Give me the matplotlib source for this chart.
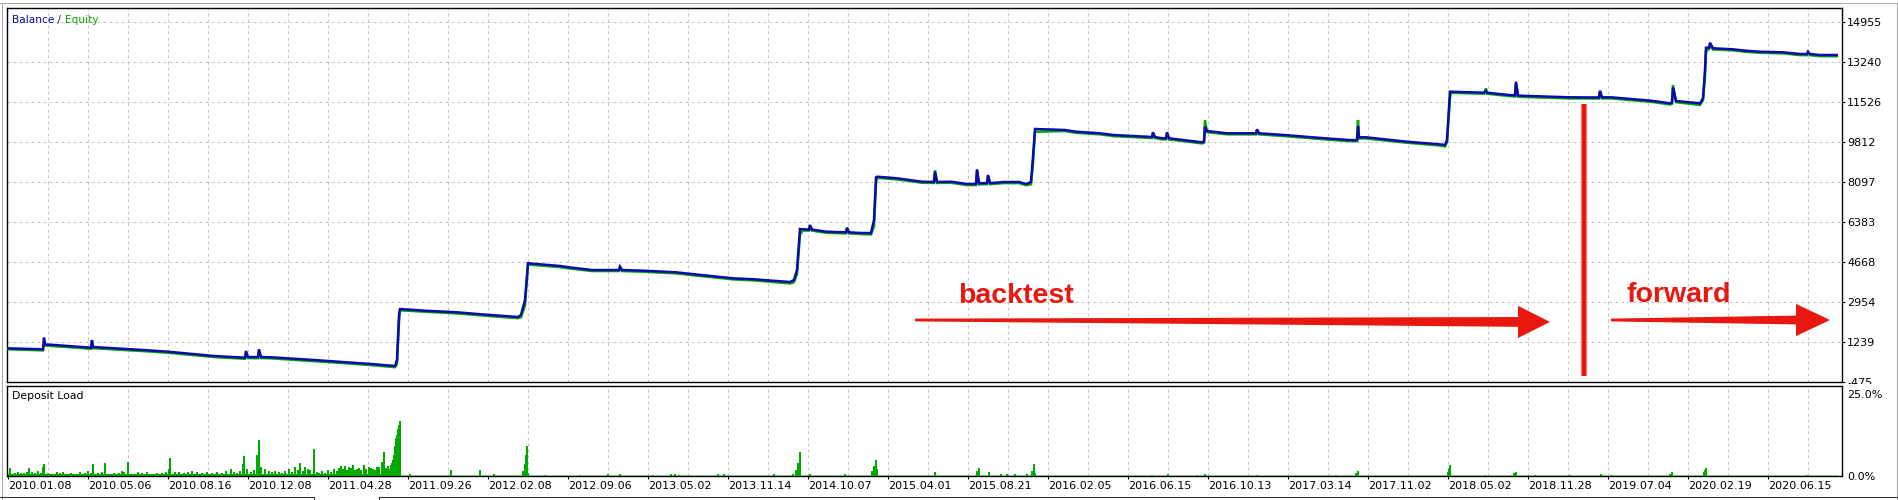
import matplotlib
matplotlib.use("Agg")
import matplotlib.pyplot as plt
from matplotlib.patches import Polygon, Rectangle
from matplotlib.lines import Line2D
import numpy as np

# ---------------- data (x = trade index along the chart) ----------------
bal_x = [0, 36, 37, 38, 84, 85, 86, 136, 161, 207,
         238, 239, 241, 251, 252, 254, 264, 307, 336, 364,
         388, 390, 392, 393, 418, 450, 479, 511, 514, 518,
         521, 553, 562, 585, 612, 613, 615, 637, 669, 694,
         726, 747, 783, 787, 790, 793, 796, 802, 803, 805,
         819, 839, 840, 842, 854, 864, 867, 869, 870, 890,
         915, 927, 928, 930, 944, 960, 969, 970, 972, 980,
         981, 983, 997, 1012, 1019, 1024, 1026, 1028, 1058, 1069,
         1093, 1106, 1145, 1146, 1148, 1155, 1159, 1160, 1162, 1195,
         1197, 1198, 1200, 1220, 1249, 1250, 1252, 1277, 1318, 1342,
         1350, 1351, 1352, 1359, 1400, 1432, 1438, 1440, 1443, 1444,
         1477, 1479, 1480, 1502, 1508, 1509, 1511, 1522, 1563, 1592,
         1593, 1595, 1604, 1644, 1663, 1665, 1666, 1669, 1693, 1696,
         1698, 1699, 1702, 1703, 1706, 1726, 1738, 1753, 1776, 1793,
         1800, 1801, 1803, 1813, 1831]

balance = [969, 927, 1424, 1141, 995, 1325, 1025, 897, 824, 639,
           567, 854, 597, 590, 927, 597, 584, 468, 382, 297,
           211, 468, 2397, 2654, 2581, 2512, 2410, 2311, 2397, 3040,
           4613, 4497, 4441, 4325, 4325, 4467, 4325, 4295, 4227, 4111,
           3970, 3927, 3811, 3897, 4325, 6083, 6070, 6060, 6254, 6060,
           5967, 5941, 6140, 5941, 5911, 5911, 6468, 8299, 8324, 8256,
           8110, 8100, 8539, 8100, 8110, 8011, 8011, 8641, 8041, 8050,
           8397, 8050, 8097, 8097, 8011, 8097, 9181, 10369, 10326, 10253,
           10185, 10112, 10026, 10227, 10026, 9970, 9970, 10227, 9970, 9799,
           9830, 10467, 10283, 10185, 10185, 10356, 10185, 10112, 9970, 9897,
           9890, 10497, 10013, 10013, 9824, 9713, 9683, 9897, 11968, 11968,
           11925, 12000, 11925, 11826, 11810, 12396, 11800, 11783, 11727, 11720,
           12010, 11727, 11727, 11582, 11470, 11500, 12148, 11569, 11470, 11685,
           12898, 13853, 13853, 14068, 13828, 13785, 13725, 13682, 13656, 13583,
           13583, 13682, 13583, 13540, 13540]

equity = [930, 880, 1300, 1090, 950, 1250, 975, 850, 780, 595,
          520, 780, 550, 545, 850, 550, 540, 420, 335, 250,
          160, 300, 2100, 2600, 2535, 2465, 2365, 2260, 2300, 2800,
          4560, 4450, 4395, 4280, 4280, 4480, 4280, 4250, 4180, 4065,
          3925, 3880, 3750, 3800, 4150, 5850, 6020, 6015, 6200, 6015,
          5920, 5895, 6100, 5895, 5865, 5850, 6200, 8000, 8275, 8210,
          8065, 8055, 8600, 8055, 8065, 7965, 7965, 8560, 7995, 8005,
          8350, 8005, 8050, 8050, 7960, 8000, 8900, 10250, 10280, 10205,
          10140, 10065, 9980, 10180, 9980, 9925, 9925, 10180, 9925, 9750,
          9780, 10755, 10235, 10140, 10140, 10300, 10140, 10065, 9925, 9850,
          9845, 10755, 9965, 9965, 9780, 9665, 9620, 9800, 11700, 11920,
          11880, 12113, 11880, 11780, 11765, 12300, 11755, 11735, 11680, 11675,
          11950, 11680, 11680, 11535, 11420, 11450, 12255, 11520, 11400, 11600,
          12600, 13700, 13805, 13950, 13780, 13740, 13680, 13635, 13610, 13535,
          13535, 13640, 13535, 13490, 13490]

# deposit load spikes
load_x = [3, 14, 20, 22, 28, 34, 36, 37, 46, 53,
          60, 68, 78, 84, 86, 91, 98, 103, 112, 117,
          121, 126, 135, 145, 155, 162, 163, 168, 177, 185,
          195, 205, 215, 224, 230, 236, 237, 240, 250, 252,
          254, 258, 262, 275, 282, 288, 293, 298, 303, 307,
          312, 318, 324, 330, 334, 338, 342, 346, 350, 354,
          357, 362, 366, 370, 375, 377, 380, 383, 386, 387,
          388, 389, 390, 391, 392, 393, 403, 444, 473, 487,
          516, 518, 519, 520, 521, 538, 573, 601, 613, 646,
          664, 668, 672, 711, 717, 767, 786, 789, 791, 793,
          803, 838, 865, 867, 869, 870, 928, 970, 972, 982,
          994, 1000, 1008, 1020, 1025, 1027, 1028, 1145, 1161, 1190,
          1198, 1250, 1329, 1349, 1351, 1441, 1442, 1443, 1478, 1507,
          1509, 1528, 1563, 1594, 1605, 1663, 1665, 1697, 1698, 1699,
          1800]

load_pct = [2.4, 1.0, 1.2, 2.4, 0.8, 1.0, 2.8, 3.6, 0.6, 0.8,
            0.6, 0.6, 0.8, 1.0, 3.6, 1.0, 3.9, 0.7, 0.8, 1.2,
            4.2, 0.6, 0.8, 0.7, 0.8, 2.0, 5.4, 1.3, 1.0, 1.4,
            0.8, 0.9, 0.8, 2.2, 1.0, 3.5, 6.0, 2.2, 6.3, 10.9,
            2.7, 2.2, 1.4, 1.0, 2.2, 2.6, 4.1, 2.6, 1.7, 8.1,
            1.0, 1.0, 1.2, 1.5, 2.9, 2.9, 2.6, 3.2, 2.2, 1.8,
            3.2, 2.6, 2.2, 2.6, 4.3, 7.2, 1.7, 2.2, 4.8, 6.5,
            9.0, 11.4, 12.5, 14.4, 15.5, 16.7, 0.6, 1.7, 1.7, 0.6,
            1.4, 3.5, 6.3, 9.0, 1.0, 0.4, 0.4, 0.6, 0.6, 0.4,
            0.6, 0.6, 0.4, 0.7, 0.6, 0.7, 0.7, 1.7, 3.9, 7.3,
            0.6, 0.5, 1.5, 3.0, 5.0, 2.0, 1.3, 1.5, 2.5, 1.2,
            0.5, 0.6, 0.5, 0.6, 1.5, 3.7, 1.0, 0.4, 0.7, 0.4,
            0.7, 0.4, 0.4, 0.9, 1.6, 1.1, 2.2, 3.3, 0.4, 0.8,
            1.3, 0.4, 0.4, 0.7, 0.4, 0.6, 1.1, 1.2, 1.8, 2.5,
            0.4]

# smaller deposit load bars (busy 2010-2011 period)
small_load_x = [8, 11, 17, 25, 31, 41, 50, 56, 64, 73,
                81, 95, 107, 115, 131, 140, 150, 159, 172, 181,
                190, 200, 210, 219, 227, 233, 244, 247, 265, 268,
                272, 278, 285, 291, 296, 301, 310, 315, 321, 327,
                332, 336, 340, 344, 348, 352, 359, 364, 368, 372,
                379, 381, 384, 385]
small_load_pct = [0.9, 1.3, 0.8, 1.1, 1.4, 0.9, 1.1, 1.3, 0.9, 1.2,
                  1.4, 1.2, 1.0, 1.4, 1.1, 1.2, 1.0, 1.3, 1.1, 1.2,
                  1.3, 1.1, 1.3, 1.5, 1.2, 1.6, 1.3, 1.8, 1.2, 1.5,
                  1.3, 1.6, 1.2, 1.8, 1.4, 2.0, 1.2, 1.4, 1.8, 2.0,
                  2.3, 2.0, 1.9, 2.4, 1.8, 2.5, 2.0, 2.4, 1.9, 2.8,
                  2.5, 3.0, 3.3, 3.8]

base_load_x = [0, 393, 394, 1831]
base_load_pct = [0.75, 0.75, 0.25, 0.25]

y_ticks = [-475, 1239, 2954, 4668, 6383, 8097, 9812, 11526, 13240, 14955]
y_tick_labels = ["-475", "1239", "2954", "4668", "6383", "8097", "9812",
                 "11526", "13240", "14955"]
load_ticks = [0, 25]
load_tick_labels = ["0.0%", "25.0%"]

date_labels = ["2010.01.08", "2010.05.06", "2010.08.16", "2010.12.08",
               "2011.04.28", "2011.09.26", "2012.02.08", "2012.09.06",
               "2013.05.02", "2013.11.14", "2014.10.07", "2015.04.01",
               "2015.08.21", "2016.02.05", "2016.06.15", "2016.10.13",
               "2017.03.14", "2017.11.02", "2018.05.02", "2018.11.28",
               "2019.07.04", "2020.02.19", "2020.06.15"]

# ---------------- style ----------------
BLUE = "#0a0aad"
GREEN = "#00aa00"
RED = "#e8170f"
PINK = "#f3a8a2"
GRID = "#c4c4c4"

W, H = 1898, 500
fig = plt.figure(figsize=(W / 100, H / 100), dpi=100)
fig.patch.set_facecolor("white")


def fx(px):
    return px / W


def fy(py):
    return 1 - py / H


X0, X1 = 7, 1842
NX = X1 - X0
ax = fig.add_axes([fx(X0), fy(382), NX / W, (382 - 8) / H], zorder=0)
ax2 = fig.add_axes([fx(X0), fy(476), NX / W, (476 - 385.5) / H], zorder=2)

ax.set_xlim(0, NX)
ax2.set_xlim(0, NX)
ax.set_ylim(-475, 15555)
ax2.set_ylim(0, 27.5)

# grids
for v in y_ticks[1:]:
    ax.axhline(v, color=GRID, lw=0.72, dashes=(3, 3), zorder=0)
for xv in np.arange(41, NX, 40):
    ax.axvline(xv, color=GRID, lw=0.72, dashes=(3, 3), zorder=0)
for xv in list(range(41, 633, 80)) + list(range(641, NX, 40)):
    ax2.axvline(xv, color=GRID, lw=0.72, dashes=(3, 3), zorder=0)

# balance / equity
ax.plot(bal_x, equity, color=GREEN, lw=1.8, zorder=3,
        solid_joinstyle="miter", solid_capstyle="butt")
ax.plot(bal_x, balance, color=BLUE, lw=1.8, zorder=4,
        solid_joinstyle="miter", solid_capstyle="butt")

# deposit load
ax2.fill_between(base_load_x, base_load_pct, 0, color=GREEN, lw=0, zorder=2)
ax2.bar(small_load_x, small_load_pct, width=1.5, color=GREEN, linewidth=0,
        zorder=3)
ax2.bar(load_x, load_pct, width=1.5, color=GREEN, linewidth=0, zorder=3)

# ---------------- annotations ----------------
SPLIT_X = 1577.5
ax.plot([SPLIT_X, SPLIT_X], [-218, 11440], color=PINK, lw=4.6,
        solid_capstyle="butt", zorder=5)
ax.plot([SPLIT_X, SPLIT_X], [-218, 11440], color=RED, lw=3.2,
        solid_capstyle="butt", zorder=6)


def arrow_poly(x0, y0, xh, yh, xt, half_tail, half_shaft, half_head):
    return Polygon([(x0, y0 + half_tail), (xh, yh + half_shaft),
                    (xh, yh + half_head), (xt, yh),
                    (xh, yh - half_head), (xh, yh - half_shaft),
                    (x0, y0 - half_tail)], closed=True,
                   facecolor=RED, edgecolor="none", zorder=6)


ax.add_patch(arrow_poly(908, 2182, 1511, 2100, 1543, 60, 210, 690))
ax.add_patch(arrow_poly(1604, 2182, 1789, 2182, 1823, 60, 190, 690))

ax.text(951, 2911, "backtest", fontfamily="Liberation Sans",
        fontweight="bold", fontsize=20.5, color=RED, va="baseline",
        ha="left", zorder=7)
ax.text(1620, 2954, "forward", fontfamily="Liberation Sans",
        fontweight="bold", fontsize=20.5, color=RED, va="baseline",
        ha="left", zorder=7)

# ---------------- axes styling ----------------
for a in (ax, ax2):
    for s in a.spines.values():
        s.set_linewidth(1.0)
        s.set_color("black")

ax.set_yticks(y_ticks)
ax.set_yticklabels(y_tick_labels)
ax.yaxis.tick_right()
ax.tick_params(axis="y", direction="out", length=2.2, width=0.75, pad=1.5,
               labelsize=8, colors="black")
ax.tick_params(axis="x", bottom=False, labelbottom=False)

ax2.set_yticks(load_ticks)
ax2.set_yticklabels(load_tick_labels)
ax2.yaxis.tick_right()
ax2.tick_params(axis="y", length=0, pad=4.0, labelsize=8, colors="black")
ax2.set_xticks(np.arange(len(date_labels)) * 80 + 1)
ax2.set_xticklabels(date_labels, ha="left")
ax2.tick_params(axis="x", direction="out", length=2.2, width=0.75, pad=1.5,
                labelsize=8, colors="black")

# hide lower half of "-475" as in the reference
fig.add_artist(Rectangle((fx(1843), 0), fx(1896) - fx(1843), fy(384),
                         transform=fig.transFigure, facecolor="white",
                         edgecolor="none", zorder=1))

# legend-like labels
renderer = fig.canvas.get_renderer()
inv = fig.transFigure.inverted()
t1 = fig.text(fx(12), fy(23), "Balance", color=BLUE, fontsize=7.6,
              va="baseline", ha="left", zorder=8)
x_next = inv.transform((t1.get_window_extent(renderer).x1, 0))[0]
t2 = fig.text(x_next, fy(23), " / ", color="#1a1a50", fontsize=7.6,
              va="baseline", ha="left", zorder=8)
x_next = inv.transform((t2.get_window_extent(renderer).x1, 0))[0]
fig.text(x_next, fy(23), "Equity", color=GREEN, fontsize=7.6,
         va="baseline", ha="left", zorder=8)
fig.text(fx(12), fy(396), "Deposit Load", color="black", fontsize=7.8,
         va="center", ha="left", zorder=8)

# window frame decorations
frame = dict(transform=fig.transFigure, zorder=9)
fig.add_artist(Line2D([0, 1], [fy(3), fy(3)], color="#a8a8a8", lw=0.75, **frame))
fig.add_artist(Line2D([fx(2), fx(2)], [0, fy(3)], color="#a8a8a8", lw=0.75, **frame))
fig.add_artist(Line2D([fx(1897), fx(1897)], [0, fy(3)], color="#a8a8a8", lw=0.75, **frame))
fig.add_artist(Line2D([0, fx(314), fx(314)], [fy(497), fy(497), 0],
                      color="#303030", lw=0.75, **frame))
fig.add_artist(Line2D([fx(379), fx(379), 1], [0, fy(497), fy(497)],
                      color="#303030", lw=0.75, **frame))

fig.savefig("out.png", dpi=100, facecolor="white")
